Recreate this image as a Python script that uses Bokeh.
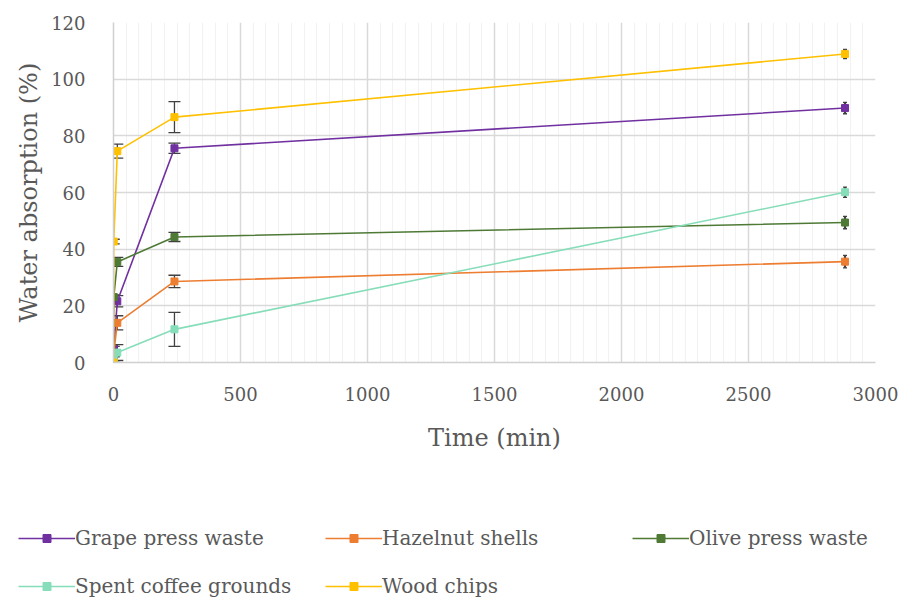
from bokeh.plotting import figure
from bokeh.models import (Range1d, FixedTicker, Whisker, TeeHead, ColumnDataSource,
                          Legend, LegendItem)
from bokeh.embed import file_html
from bokeh.resources import INLINE

# ---- data ----
time_min = [0, 1, 15, 240, 2880]
series_names = ["Grape press waste", "Hazelnut shells", "Olive press waste",
                "Spent coffee grounds", "Wood chips"]
grape = [0, 4.7, 21.6, 75.6, 89.8]
grape_err = [0, 1.0, 2.0, 1.8, 2.0]
hazelnut = [0, 3.2, 14.0, 28.6, 35.6]
hazelnut_err = [0, 1.0, 2.5, 2.2, 2.2]
olive = [0, 23.1, 35.5, 44.3, 49.4]
olive_err = [0, 0.8, 1.6, 1.6, 2.2]
coffee = [0, 1.0, 3.5, 11.7, 60.1]
coffee_err = [0, 1.0, 2.8, 6.0, 1.8]
wood = [0, 42.7, 74.6, 86.6, 108.9]
wood_err = [0, 0.8, 2.5, 5.5, 1.6]
colors = ["#7030A0", "#ED7D31", "#4E7A36", "#86DDB9", "#FFC000"]
x_ticks = [0, 500, 1000, 1500, 2000, 2500, 3000]
y_ticks = [0, 20, 40, 60, 80, 100, 120]

values = [grape, hazelnut, olive, coffee, wood]
errors = [grape_err, hazelnut_err, olive_err, coffee_err, wood_err]

FONT = "DejaVu Serif"
TXT = "#595959"

p = figure(width=904, height=470, output_backend="svg", toolbar_location=None,
           x_range=Range1d(0, 3000), y_range=Range1d(0, 120),
           min_border_left=113, min_border_right=29, min_border_top=22,
           min_border_bottom=108)
p.outline_line_color = None
p.background_fill_color = "white"
p.border_fill_color = "white"

p.xaxis.ticker = FixedTicker(ticks=x_ticks, minor_ticks=list(range(0, 3001, 50)))
p.yaxis.ticker = FixedTicker(ticks=y_ticks)

for ax in (p.xaxis[0], p.yaxis[0]):
    ax.axis_line_color = "#d0d0d0"
    ax.axis_line_width = 1.5
    ax.major_tick_line_color = None
    ax.minor_tick_line_color = None
    ax.major_label_text_font = FONT
    ax.major_label_text_font_size = "18px"
    ax.major_label_text_color = TXT
    ax.axis_label_text_font = FONT
    ax.axis_label_text_font_size = "24px"
    ax.axis_label_text_font_style = "normal"
    ax.axis_label_text_color = TXT

p.xaxis.axis_label = "Time (min)"
p.yaxis.axis_label = "Water absorption (%)"
p.xaxis.major_label_standoff = 18
p.yaxis.major_label_standoff = 22
p.xaxis.axis_label_standoff = 20
p.yaxis.axis_label_standoff = 5

p.xgrid.grid_line_color = "#d9d9d9"
p.xgrid.grid_line_width = 1.5
p.xgrid.minor_grid_line_color = "#f2f2f2"
p.xgrid.minor_grid_line_width = 1
p.ygrid.grid_line_color = "#d9d9d9"
p.ygrid.grid_line_width = 1.5

# legend-only strip below the chart (separate root, so no frame alignment)
p2 = figure(width=904, height=131, output_backend="svg", toolbar_location=None,
            x_range=Range1d(0, 1), y_range=Range1d(0, 1),
            min_border=0, x_axis_type=None, y_axis_type=None)
p2.outline_line_color = None
p2.grid.visible = False
p2.background_fill_color = "white"
p2.border_fill_color = "white"

items = []
for name, ys, es, col in zip(series_names, values, errors, colors):
    src = ColumnDataSource(dict(x=time_min, y=ys))
    p.line("x", "y", source=src, line_color=col, line_width=1.6)
    p.scatter("x", "y", source=src, marker="square", size=7,
              fill_color=col, line_color=col)
    # error bars (skip t = 0)
    idx_cap = [i for i in range(1, len(time_min)) if time_min[i] < 2880]
    idx_end = [i for i in range(1, len(time_min)) if time_min[i] >= 2880]
    for idx, head, lw in ((idx_cap, 12, 1.3), (idx_end, 4, 2.2)):
        esrc = ColumnDataSource(dict(
            base=[time_min[i] for i in idx],
            upper=[ys[i] + es[i] for i in idx],
            lower=[ys[i] - es[i] for i in idx]))
        w = Whisker(source=esrc, base="base", upper="upper", lower="lower",
                    line_color="#404040", line_width=lw,
                    upper_head=TeeHead(size=head, line_color="#404040", line_width=1.3),
                    lower_head=TeeHead(size=head, line_color="#404040", line_width=1.3))
        p.add_layout(w)
    # legend proxies (not-a-number point, nothing drawn) in the legend strip
    lsrc = ColumnDataSource(dict(x=[float("nan")], y=[float("nan")]))
    ln2 = p2.line("x", "y", source=lsrc, line_color=col, line_width=1.6)
    mk2 = p2.scatter("x", "y", source=lsrc, marker="square", size=7,
                     fill_color=col, line_color=col)
    items.append(LegendItem(label=name, renderers=[ln2, mk2]))

legend = Legend(items=items, location=(18, 3), orientation="horizontal",
                ncols=3, glyph_width=57, glyph_height=20, label_standoff=0,
                label_width=226, label_height=24, spacing=24, padding=0,
                margin=0, label_text_font=FONT, label_text_font_size="20px",
                label_text_color=TXT, border_line_color=None,
                background_fill_alpha=0)
p2.add_layout(legend, "center")

open("out.html", "w").write(file_html([p, p2], INLINE))
